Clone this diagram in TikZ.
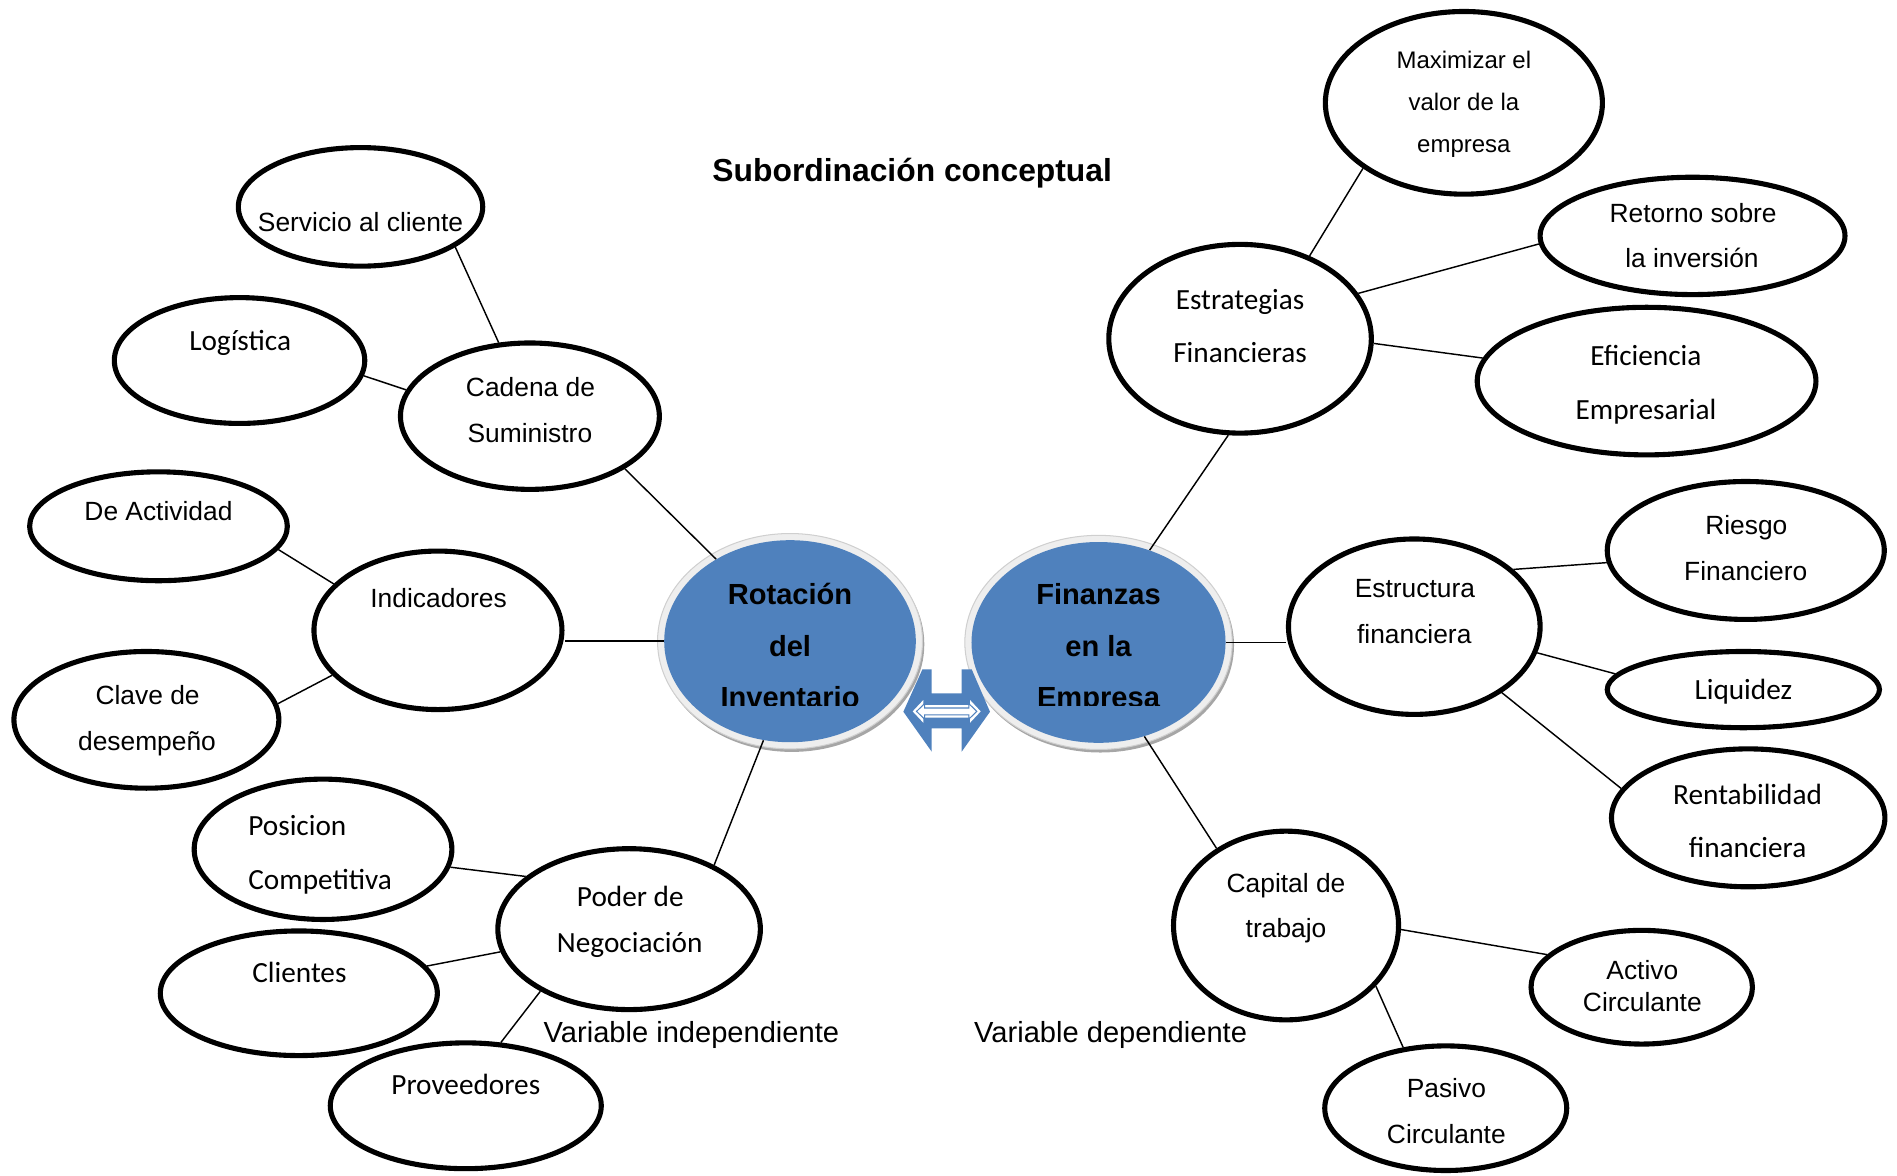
\documentclass[tikz,border=0pt]{standalone}
\usepackage{fontspec}
\setmainfont{Liberation Sans}
\newfontfamily\calfont{Carlito}
\usetikzlibrary{shapes.geometric}
\definecolor{blu}{HTML}{4F81BD}
\definecolor{rimfill}{HTML}{EEEEEE}
\definecolor{rimedge}{HTML}{CFCFCF}
\definecolor{rimshade}{HTML}{A6A6A6}
\begin{document}
\begin{tikzpicture}[x=0.025cm, y=-0.025cm,
  oval/.style 2 args={ellipse, draw=black, line width=3pt, fill=white,
    minimum width=#1*0.025cm, minimum height=#2*0.025cm, inner sep=0pt},
  core/.style 2 args={ellipse, fill=blu, minimum width=#1*0.025cm,
    minimum height=#2*0.025cm, inner sep=0pt},
  link/.style={line width=0.85pt},
  ar/.style={font=\fontsize{15.5}{18}\selectfont, anchor=base, inner sep=0pt},
  mx/.style={font=\fontsize{14.1}{17}\selectfont, anchor=base, inner sep=0pt},
  cb/.style={font=\calfont\fontsize{17.2}{20}\selectfont, anchor=base, inner sep=0pt},
  vr/.style={font=\fontsize{17.1}{20}\selectfont, anchor=base, inner sep=0pt},
  ttl/.style={font=\bfseries\fontsize{18.7}{22}\selectfont, anchor=base, inner sep=0pt},
  bl/.style={font=\bfseries\fontsize{17.1}{20}\selectfont, anchor=base, inner sep=0pt}]
\useasboundingbox (0,0) rectangle (1568,972);

% title
\node[ttl] (title) at (754,150) {Subordinación conceptual};

% central concepts: shadow, light rim, blue disc
\fill[rimshade] (654.5,532.5) ellipse [x radius=109.5, y radius=89];
\fill[rimfill, draw=rimedge, line width=0.6pt] (653,530) ellipse [x radius=109.5, y radius=89];
\node[core={208}{167}] (rot) at (653,530) {};
\fill[rimshade] (909.5,533.5) ellipse [x radius=110.5, y radius=88.5];
\fill[rimfill, draw=rimedge, line width=0.6pt] (908,531) ellipse [x radius=110.5, y radius=88.5];
\node[core={210}{166}] (fin) at (908,531) {};
\begin{scope}
  \clip (500,400) rectangle (1100,583);
  \node[bl] (rot-a) at (653,500) {Rotación};
  \node[bl] (rot-b) at (653,543) {del};
  \node[bl] (rot-c) at (653,584.6) {Inventario};
  \node[bl] (fin-a) at (908,500) {Finanzas};
  \node[bl] (fin-b) at (908,543) {en la};
  \node[bl] (fin-c) at (908,584.6) {Empresa};
\end{scope}

% two-way block arrow between the central concepts
\fill[blu] (746.7,588.3) -- (762.4,553.3) -- (770.1,553.3) -- (770.1,573.1)
  -- (794.9,573.1) -- (794.9,553.3) -- (803.2,553.3) -- (818.3,588.3)
  -- (794.9,621.3) -- (794.9,602.0) -- (770.1,602.0) -- (770.1,621.3) -- cycle;
\fill[white] (754.4,588) -- (763.2,578.6) -- (763.2,582.9) -- (801.8,582.9)
  -- (801.8,578.6) -- (810.6,588) -- (801.8,597.4) -- (801.8,593.1)
  -- (763.2,593.1) -- (763.2,597.4) -- cycle;
\draw[blu, line width=0.6pt] (757.6,588) -- (764.2,581.6) -- (764.2,585.2) -- (800.8,585.2)
  -- (800.8,581.6) -- (807.4,588) -- (800.8,594.4) -- (800.8,590.8)
  -- (764.2,590.8) -- (764.2,594.4) -- cycle;

% left branch: supply chain
\node[oval={202}{98}] (serv) at (298,171) {};
\node[ar] (serv-a) at (298,191) {Servicio al cliente};
\node[oval={207}{104}] (logi) at (198,298) {};
\node[cb] (logi-a) at (198.5,290) {Logística};
\node[oval={214}{121}] (cad) at (438,344) {};
\node[ar] (cad-a) at (438.5,328) {Cadena de};
\node[ar] (cad-b) at (438,366) {Suministro};

% left branch: indicators
\node[oval={213}{90}] (act) at (131,435) {};
\node[ar] (act-a) at (131,430) {De Actividad};
\node[oval={205}{131}] (ind) at (362,521) {};
\node[ar] (ind-a) at (362.5,502) {Indicadores};
\node[oval={219}{113}] (clave) at (121,595) {};
\node[ar] (clave-a) at (122,582) {Clave de};
\node[ar] (clave-b) at (121.5,620) {desempeño};

% left branch: bargaining power
\node[oval={213}{116}] (pos) at (267,702) {};
\node[cb, anchor=base west] (pos-a) at (205,691) {Posicion};
\node[cb, anchor=base west] (pos-b) at (205,735) {Competitiva};
\node[oval={229}{103}] (cli) at (247,821) {};
\node[cb] (cli-a) at (247.5,812) {Clientes};
\node[oval={217}{133}] (pod) at (520,768) {};
\node[cb] (pod-a) at (521,749) {Poder de};
\node[cb] (pod-b) at (520.5,787) {Negociación};
\node[oval={224}{104}] (prov) at (385,914) {};
\node[cb] (prov-a) at (385,905) {Proveedores};

% right branch: financial strategies
\node[oval={229}{151}] (max) at (1210,85) {};
\node[mx] (max-a) at (1210,57) {Maximizar el};
\node[mx] (max-b) at (1210,91.5) {valor de la};
\node[mx] (max-c) at (1210,126) {empresa};
\node[oval={252}{97}] (ret) at (1399,195) {};
\node[ar] (ret-a) at (1399.5,184) {Retorno sobre};
\node[ar] (ret-b) at (1398.5,221) {la inversión};
\node[oval={217}{156}] (estr) at (1025,280) {};
\node[cb] (estr-a) at (1025,256) {Estrategias};
\node[cb] (estr-b) at (1025,300) {Financieras};
\node[oval={280}{122}] (efic) at (1361,315) {};
\node[cb] (efic-a) at (1360.5,302) {Eficiencia};
\node[cb] (efic-b) at (1360.5,347) {Empresarial};

% right branch: financial structure
\node[oval={229}{114}] (ries) at (1443,455) {};
\node[ar] (ries-a) at (1443.5,442) {Riesgo};
\node[ar] (ries-b) at (1443,480) {Financiero};
\node[oval={208}{145}] (estruc) at (1169,518) {};
\node[ar] (estruc-a) at (1169.5,494) {Estructura};
\node[ar] (estruc-b) at (1169,532) {financiera};
\node[oval={225}{63}] (liq) at (1441,570) {};
\node[cb] (liq-a) at (1441,578) {Liquidez};
\node[oval={226}{114}] (rent) at (1445,676) {};
\node[cb] (rent-a) at (1444.5,665) {Rentabilidad};
\node[cb] (rent-b) at (1444.5,709) {financiera};

% right branch: working capital
\node[oval={186}{156}] (cap) at (1063,765) {};
\node[ar] (cap-a) at (1063,738) {Capital de};
\node[ar] (cap-b) at (1063,775) {trabajo};
\node[oval={183}{94}] (acti) at (1357,816) {};
\node[ar] (acti-a) at (1357.5,810) {Activo};
\node[ar] (acti-b) at (1357.5,836) {Circulante};
\node[oval={200}{103}] (pas) at (1195,916) {};
\node[ar] (pas-a) at (1195.5,907) {Pasivo};
\node[ar] (pas-b) at (1195.5,945) {Circulante};

% variable labels
\node[vr] (vind) at (571.5,861.5) {Variable independiente};
\node[vr] (vdep) at (918,861.5) {Variable dependiente};

% connectors
\draw[link] (serv.-23.2) -- (cad.113.9);
\draw[link] (logi.-7.1) -- (cad.168.9);
\draw[link] (cad.-29.6) -- (rot.132.6);
\draw[link] (act.-11.7) -- (ind.156.6);
\draw[link] (clave.7.8) -- (ind.203.4);
\draw[link] (rot.west) -- (rot.west -| ind.east);
\draw[link] (rot.-105) -- (pod.37.5);
\draw[link] (pos.-8) -- (pod.153.4);
\draw[link] (cli.12.5) -- (pod.190);
\draw[link] (prov.61.7) -- (pod.215.8);
\draw[link] (estr.50) -- (max.213.8);
\draw[link] (estr.21.4) -- (ret.183.2);
\draw[link] (estr.-2.1) -- (efic.172.3);
\draw[link] (estr.-97.6) -- (fin.61.3);
\draw[link] (fin.east) -- (fin.east -| estruc.west);
\draw[link] (estruc.30) -- (ries.185.9);
\draw[link] (estruc.-12.2) -- (liq.173.7);
\draw[link] (estruc.-37.5) -- (rent.167.4);
\draw[link] (fin.-64.5) -- (cap.132.7);
\draw[link] (cap.-2.4) -- (acti.161.1);
\draw[link] (cap.-34.4) -- (pas.125.8);
\end{tikzpicture}
\end{document}
